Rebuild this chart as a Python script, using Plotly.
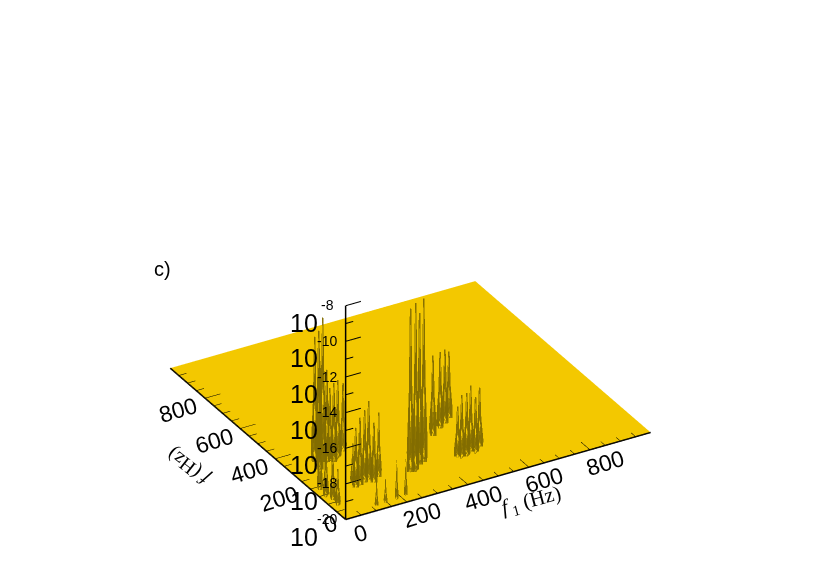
import numpy as np
import plotly.graph_objects as go

F_RANGE = [0, 1000]
AXIS_RANGE = [-300, 1300]
Z_LOG_RANGE = [-20, -8]
Z_AXIS_RANGE = [-20.5, -7.5]
YELLOW = "#F3C800"

# peaks: f1 (Hz), f2 (Hz), log10 amplitude, foot size
peak_f1 = [294, 312, 358, 339,
           454, 495, 521, 545,
           453, 463, 481, 502, 511, 538,
           123, 116, 132, 155, 171, 175, 204,
           138, 136, 157, 187,
           89, 116, 148, 79, 116,
           22, 17, 25, 23,
           113, 147, 183, 214]
peak_f2 = [141, 143, 177, 168,
           292, 322, 340, 359,
           149, 143, 146, 160, 148, 172,
           173, 144, 148, 161, 166, 143, 166,
           330, 304, 318, 340,
           331, 355, 388, 284, 309,
           185, 142, 117, 85,
           20, 28, 27, 29]
peak_h = [-10.8, -10.6, -10.85, -11.5,
          -15.5, -15.76, -15.9, -16.3,
          -17.15, -16.5, -16.5, -16.3, -16.9, -16.7,
          -17.8, -16.65, -16.2, -16.0, -15.6, -16.65, -16.4,
          -16.1, -15.6, -15.65, -16.15,
          -13.0, -13.0, -12.7, -13.9, -14.8,
          -16.65, -16.8, -17.2, -18.0,
          -18.5, -18.7, -17.8, -17.9]
peak_w = [1, 1, 1, 1,
          1, 1, 1, 1,
          1, 1, 1, 1, 1, 1,
          .7, 1, 1, 1, 1, 1, .8,
          1, 1, 1, 1,
          1, 1, 1, 1, 1,
          .8, .8, .8, .8,
          .5, .5, .5, .5]

TIER_FRAC = [0.0, 0.12, 0.5, 1.0]
TIER_HALF = [7.0, 8.0, 3.6, 1.5]

x_major = [0, 200, 400, 600, 800]
x_minor = [50, 100, 150, 250, 300, 350, 450, 500, 550, 650, 700, 750, 850, 900, 950]
z_major = [-20, -18, -16, -14, -12, -10, -8]
z_minor = [-19, -17, -15, -13, -11, -9]
TICK_MAJOR = 50
TICK_MINOR = 25

px, py, pz, fi, fj, fk = [], [], [], [], [], []
for f1, f2, h, w in zip(peak_f1, peak_f2, peak_h, peak_w):
    base = len(px)
    for frac, half in zip(TIER_FRAC, TIER_HALF):
        zv = 10 ** (-20 + (h + 20) * frac)
        for sx, sy in ((-1, -1), (1, -1), (1, 1), (-1, 1)):
            px.append(f1 + sx * half * w)
            py.append(f2 + sy * half * w)
            pz.append(zv)
    for t in range(len(TIER_FRAC) - 1):
        for c in range(4):
            a = base + 4 * t + c
            b = base + 4 * t + (c + 1) % 4
            d = a + 4
            e = b + 4
            fi += [a, b]; fj += [b, e]; fk += [e, d]
    top = base + 4 * (len(TIER_FRAC) - 1)
    fi += [top, top]; fj += [top + 1, top + 2]; fk += [top + 2, top + 3]

flat = dict(ambient=1, diffuse=0, specular=0, roughness=1, fresnel=0)
FL = 10.0 ** Z_LOG_RANGE[0]
floor = go.Surface(x=F_RANGE, y=F_RANGE, z=[[FL, FL], [FL, FL]],
                   colorscale=[[0, YELLOW], [1, YELLOW]], showscale=False, lighting=flat, hoverinfo="skip")
spikes = go.Mesh3d(x=px, y=py, z=pz, i=fi, j=fj, k=fk, color="#826C00", opacity=0.8,
                   lighting=flat, flatshading=True, hoverinfo="skip")

def lines(xs, ys, zs, width):
    return go.Scatter3d(x=xs, y=ys, z=zs, mode="lines", line=dict(color="black", width=width),
                        hoverinfo="skip", showlegend=False)

def segs(starts, ends):
    out = []
    for s, e in zip(starts, ends):
        out += [s, e, None]
    return out

zt = 10.0 ** Z_LOG_RANGE[1]
traces = [floor, spikes,
          lines([0, 1000, None, 0, 0, None, 0, 0], [0, 0, None, 0, 1000, None, 0, 0], [FL, FL, None, FL, FL, None, FL, zt], 3)]
for ticks, L in ((x_major, TICK_MAJOR), (x_minor, TICK_MINOR)):
    n = len(ticks)
    traces.append(lines(segs(ticks, ticks), segs([0] * n, [L] * n), segs([FL] * n, [FL] * n), 2))
    traces.append(lines(segs([0] * n, [L] * n), segs(ticks, ticks), segs([FL] * n, [FL] * n), 2))
for ticks, L in ((z_major, TICK_MAJOR), (z_minor, TICK_MINOR)):
    n = len(ticks)
    zv = [10.0 ** t for t in ticks]
    traces.append(lines(segs([0] * n, [L] * n), segs([0] * n, [0] * n), segs(zv, zv), 2))

SANS = "Liberation Sans"
SERIF = "Liberation Serif"
ann = []
for t in x_major:
    ann.append(dict(x=t, y=-87, z=-20, text=str(t), textangle=-17, showarrow=False,
                    font=dict(family=SANS, size=23, color="black")))
y_label_x = [-51, -107, -100, -100, -100]
y_label_y = [-1, 196, 379, 579, 779]
for t, lx, ly in zip(x_major, y_label_x, y_label_y):
    ann.append(dict(x=lx, y=ly, z=-20, text=str(t), textangle=-17, showarrow=False,
                    font=dict(family=SANS, size=23, color="black")))
for t in z_major:
    ann.append(dict(x=-152, y=-25, z=t, text="10", showarrow=False,
                    font=dict(family=SANS, size=25, color="black")))
    ann.append(dict(x=-44, y=28, z=t, text=str(t), showarrow=False,
                    font=dict(family=SANS, size=14, color="black")))
ann.append(dict(x=510, y=-170, z=-20, text="<i>f</i><sub> 1</sub> (Hz)", textangle=-15, showarrow=False,
                font=dict(family=SERIF, size=21, color="black")))
ann.append(dict(x=-235, y=490, z=-20, text="<i>f</i> (Hz)", textangle=-142, showarrow=False,
                font=dict(family=SERIF, size=20, color="black")))

ax = dict(showbackground=False, showgrid=False, zeroline=False, showspikes=False, title="",
          ticks="", showline=False, showticklabels=False)
fig = go.Figure(traces)
el, az = np.radians(29.75), np.radians(240.1)
D = 1.03
CENTER = [0.0180, -0.0271, -0.0253]
eye = [D*np.cos(el)*np.cos(az) + CENTER[0], D*np.cos(el)*np.sin(az) + CENTER[1], D*np.sin(el) + CENTER[2]]
fig.update_layout(width=822, height=588, margin=dict(l=0, r=0, t=0, b=0), paper_bgcolor="white",
    showlegend=False,
    annotations=[dict(xref="paper", yref="paper", x=154 / 822, y=1 - 261 / 588, text="c)", showarrow=False,
                      xanchor="center", yanchor="middle",
                      font=dict(family=SANS, size=20, color="black"))],
    scene=dict(
        aspectmode="manual", aspectratio=dict(x=1.915, y=1.915, z=0.9073),
        camera=dict(projection=dict(type="orthographic"), up=dict(x=0, y=0, z=1),
                    center=dict(x=CENTER[0], y=CENTER[1], z=CENTER[2]),
                    eye=dict(x=eye[0], y=eye[1], z=eye[2])),
        xaxis=dict(ax, range=AXIS_RANGE),
        yaxis=dict(ax, range=AXIS_RANGE),
        zaxis=dict(ax, type="log", range=Z_AXIS_RANGE),
        annotations=ann,
    ))
fig.write_html("out.html")
